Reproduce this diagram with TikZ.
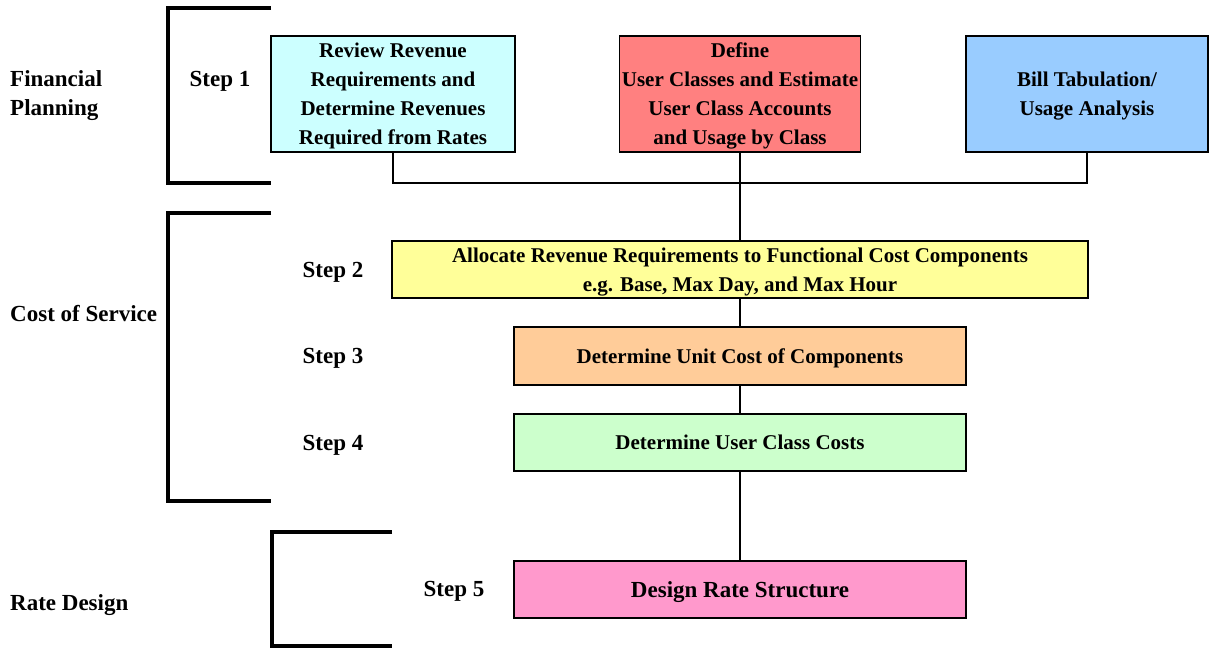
\documentclass[tikz,border=0pt]{standalone}
\usepackage{fontspec}
\setmainfont{Liberation Serif}
\usetikzlibrary{calc}

\definecolor{revcyan}{HTML}{CCFFFF}
\definecolor{defred}{HTML}{FF8080}
\definecolor{billblue}{HTML}{99CCFF}
\definecolor{allocyellow}{HTML}{FFFF99}
\definecolor{unitorange}{HTML}{FFCC99}
\definecolor{uccgreen}{HTML}{CCFFCC}
\definecolor{designpink}{HTML}{FF99CC}

\begin{document}
\begin{tikzpicture}
  [
    x=1pt, y=-1pt,
    font=\fontsize{23}{29}\selectfont\bfseries,
    stepbox/.style={draw, line width=1.8pt, inner sep=0pt, align=center, text depth=-4pt,
      font=\fontsize{21}{29}\selectfont\bfseries},
    bracket/.style={line width=3.5pt},
    link/.style={line width=1.8pt}
  ]
  \useasboundingbox (0,0) rectangle (1209,648);
  % phase labels
  \node [anchor=west, align=left, inner sep=0pt] (fin) at (10, 96) {Financial\\Planning};
  \node [anchor=west, inner sep=0pt] (cos) at (10, 314) {Cost of Service};
  \node [anchor=west, inner sep=0pt] (rd) at (10, 605) {Rate Design};
  % brackets
  \draw [bracket] (271, 8) -| (168, 183) -- (271, 183);
  \draw [bracket] (271, 213) -| (168, 501) -- (271, 501);
  \draw [bracket] (392, 532) -| (272, 646) -- (392, 646);
  % step labels
  \node (s1) at (220, 81) {Step 1};
  \node (s2) at (333, 272) {Step 2};
  \node (s3) at (333, 358) {Step 3};
  \node (s4) at (333, 445) {Step 4};
  \node (s5) at (454, 591) {Step 5};
  % boxes
  \node [stepbox, fill=revcyan, minimum width=244, minimum height=116] (rev) at (393, 94)
    {Review Revenue\\Requirements and\\Determine Revenues\\Required from Rates};
  \node [stepbox, fill=defred, minimum width=241, minimum height=116] (def) at (740, 94)
    {Define\\User Classes and Estimate\\User Class Accounts\\and Usage by Class};
  \node [stepbox, fill=billblue, minimum width=242, minimum height=116] (bill) at (1087, 94)
    {Bill Tabulation/\\Usage Analysis};
  \node [stepbox, fill=allocyellow, minimum width=696, minimum height=57] (alloc) at (740, 269.5)
    {Allocate Revenue Requirements to Functional Cost Components\\e.g. Base, Max Day, and Max Hour};
  \node [stepbox, fill=unitorange, minimum width=452, minimum height=58] (unit) at (740, 356)
    {Determine Unit Cost of Components};
  \node [stepbox, fill=uccgreen, minimum width=452, minimum height=57] (ucc) at (740, 442.5)
    {Determine User Class Costs};
  \node [stepbox, fill=designpink, minimum width=452, minimum height=57,
    font=\fontsize{23}{29}\selectfont\bfseries] (design) at (740, 589.5)
    {Design Rate Structure};
  % connectors
  \coordinate (j) at (740, 183);
  \draw [link] (rev.south) -- (rev.south |- j) -- (bill.south |- j) -- (bill.south);
  \draw [link] (def.south) -- (alloc.north);
  \draw [link] (alloc.south) -- (unit.north);
  \draw [link] (unit.south) -- (ucc.north);
  \draw [link] (ucc.south) -- (design.north);

\end{tikzpicture}
\end{document}
